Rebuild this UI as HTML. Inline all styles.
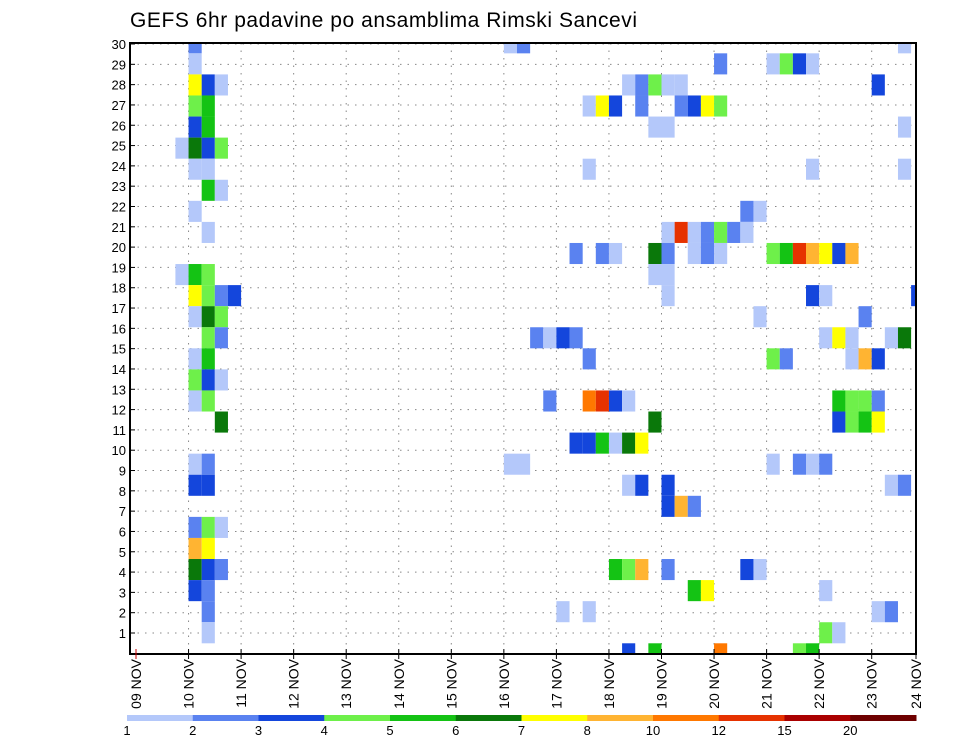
<!DOCTYPE html>
<html><head><meta charset="utf-8"><title>GEFS 6hr padavine</title>
<style>
html,body{margin:0;padding:0;background:#fff;}
svg{display:block;font-family:"Liberation Sans",sans-serif;}
</style></head>
<body>
<svg id="chart" width="960" height="742" viewBox="0 0 960 742" xmlns="http://www.w3.org/2000/svg">
<text x="130" y="27" font-size="21" textLength="507" fill="#000">GEFS 6hr padavine po ansamblima Rimski Sancevi</text>
<g id="grid"></g>
<g id="cells"></g>
<rect x="130" y="43" width="786" height="611" fill="none" stroke="#000" stroke-width="2"/>
<g id="yaxis"></g>
<g id="xaxis"></g>
<g id="legend"></g>
</svg>
<script>
// ---- data ----
const dayLabels = ["09 NOV","10 NOV","11 NOV","12 NOV","13 NOV","14 NOV","15 NOV","16 NOV","17 NOV","18 NOV","19 NOV","20 NOV","21 NOV","22 NOV","23 NOV","24 NOV"];
const memberTicks = [1,2,3,4,5,6,7,8,9,10,11,12,13,14,15,16,17,18,19,20,21,22,23,24,25,26,27,28,29,30];
const levels = [1,2,3,4,5,6,7,8,10,12,15,20];
const levelColors = ["#b4c8fa","#5a82f0","#1446dc","#6ef04a","#14c314","#0a780a","#ffff00","#ffb432","#ff7800","#e63200","#aa0000","#6e0000"];
// each cell: ensemble member, 6-hour step since 09 NOV 00z, precipitation (mm)
const cellMember = [
30,30,30,30,
29,29,29,29,29,29,
28,28,28,28,28,28,28,28,28,
27,27,27,27,27,27,27,27,27,27,
26,26,26,26,26,
25,25,25,25,
24,24,24,24,24,
23,23,
22,22,22,
21,21,21,21,21,21,21,21,
20,20,20,20,20,20,20,20,20,20,20,20,20,20,20,
19,19,19,19,19,
18,18,18,18,18,18,18,18,
17,17,17,17,17,
16,16,16,16,16,16,16,16,16,16,16,
15,15,15,15,15,15,15,15,
14,14,14,
13,13,13,13,13,13,13,13,13,13,13,
12,12,12,12,12,12,
11,11,11,11,11,11,
10,10,10,10,10,10,10,10,
9,9,9,9,9,9,9,
8,8,8,
7,7,7,
6,6,
5,5,5,5,5,5,5,5,5,
4,4,4,4,4,
3,3,3,3,3,
2,2,2,
1,1,1,1,1];
const cellStep = [
4,28,29,58,
4,44,48,49,50,51,
4,5,6,37,38,39,40,41,56,
4,5,34,35,36,38,41,42,43,44,
4,5,39,40,58,
3,4,5,6,
4,5,34,51,58,
5,6,
4,46,47,
5,40,41,42,43,44,45,46,
33,35,36,39,40,42,43,44,48,49,50,51,52,53,54,
3,4,5,39,40,
4,5,6,7,40,51,52,59,
4,5,6,47,55,
5,6,30,31,32,33,52,53,54,57,58,
4,5,34,48,49,54,55,56,
4,5,6,
4,5,31,34,35,36,37,53,54,55,56,
6,39,53,54,55,56,
33,34,35,36,37,38,
4,5,28,29,48,50,51,52,
4,5,37,38,40,57,58,
40,41,42,
4,5,6,
4,5,
4,5,6,36,37,38,40,46,47,
4,5,42,43,52,
5,32,34,56,57,
5,52,53,
37,39,44,50,51];
const cellValue = [
2.5,1.5,2.5,1.5,
1.5,2.5,1.5,4.5,3.5,1.5,
7.5,3.5,1.5,1.5,2.5,4.5,1.5,1.5,3.5,
4.5,5.5,1.5,7.5,3.5,2.5,2.5,3.5,7.5,4.5,
3.5,5.5,1.5,1.5,1.5,
1.5,6.5,3.5,4.5,
1.5,1.5,1.5,1.5,1.5,
5.5,1.5,
1.5,2.5,1.5,
1.5,1.5,13.5,1.5,2.5,4.5,2.5,1.5,
2.5,2.5,1.5,6.5,2.5,1.5,2.5,1.5,4.5,5.5,13.5,9,7.5,3.5,9,
1.5,5.5,4.5,1.5,1.5,
7.5,4.5,2.5,3.5,1.5,3.5,1.5,3.5,
1.5,6.5,4.5,1.5,2.5,
4.5,2.5,2.5,1.5,3.5,2.5,1.5,7.5,1.5,1.5,6.5,
1.5,5.5,2.5,4.5,2.5,1.5,9,3.5,
4.5,3.5,1.5,
1.5,4.5,2.5,11,13.5,3.5,1.5,5.5,4.5,4.5,2.5,
6.5,6.5,3.5,4.5,5.5,7.5,
3.5,3.5,5.5,1.5,6.5,7.5,
1.5,2.5,1.5,1.5,1.5,2.5,1.5,2.5,
3.5,3.5,1.5,3.5,3.5,1.5,2.5,
3.5,9,2.5,
2.5,4.5,1.5,
9,7.5,
6.5,3.5,2.5,5.5,4.5,9,2.5,3.5,1.5,
3.5,2.5,5.5,7.5,1.5,
2.5,1.5,1.5,1.5,2.5,
1.5,4.5,1.5,
3.5,5.5,11,4.5,5.5];

// ---- scales ----
const NS = "http://www.w3.org/2000/svg";
const PL = 130, PR = 916, PT = 43, PB = 654;
const X0 = 136, DAY = 52.55, STEP = DAY / 4;
const CELL_H = 21.07, M30_CENTER = 42.8;
function xStep(k){ return X0 + k * STEP; }
function xDay(d){ return X0 + d * DAY; }
function yCell(m){ return M30_CENTER + (30 - m) * CELL_H; }
function yTick(m){ return 633 - (m - 1) * 20.31; }
function colorFor(v){
  let idx = 0;
  for (let i = 0; i < levels.length; i++) if (v >= levels[i]) idx = i;
  return levelColors[idx];
}
function mk(tag, attrs, parent){
  const e = document.createElementNS(NS, tag);
  for (const a in attrs) e.setAttribute(a, attrs[a]);
  parent.appendChild(e);
  return e;
}

// grid
const grid = document.getElementById('grid');
memberTicks.forEach(m => {
  const l = mk('line', {x1:PL, x2:PR, y1:yTick(m), y2:yTick(m), stroke:'#888', 'stroke-width':1, 'stroke-dasharray':'1.5,6'}, grid);
  
  
});
for (let d = 1; d < dayLabels.length - 1; d++) {
  const l = mk('line', {x1:xDay(d), x2:xDay(d), y1:PT, y2:PB, stroke:'#888', 'stroke-width':1, 'stroke-dasharray':'1.5,6'}, grid);
  
  
}

// cells
const cells = document.getElementById('cells');
const clip = mk('clipPath', {id:'plotclip'}, mk('defs', {}, document.getElementById('chart')));
mk('rect', {x:PL, y:PT, width:PR-PL, height:PB-PT}, clip);
cells.setAttribute('clip-path', 'url(#plotclip)');
for (let i = 0; i < cellMember.length; i++) {
  const r = mk('rect', {x:xStep(cellStep[i]).toFixed(2), y:(yCell(cellMember[i]) - CELL_H/2).toFixed(2), width:STEP.toFixed(2), height:CELL_H.toFixed(2), fill:colorFor(cellValue[i])}, cells);
  
  
}

// y axis
const ya = document.getElementById('yaxis');
memberTicks.forEach(m => {
  const t = mk('text', {x:126, y:yTick(m) + 5, 'font-size':13, 'text-anchor':'end', fill:'#000'}, ya);
  t.textContent = String(m);
  
  
  const tk = mk('line', {x1:PL, x2:PL + 5, y1:yTick(m), y2:yTick(m), stroke:'#000', 'stroke-width':1}, ya);
  
  
});

// x axis
const xa = document.getElementById('xaxis');
dayLabels.forEach((lab, d) => {
  const x = Math.min(xDay(d), PR);
  const tk = mk('line', {x1:x, x2:x, y1:PB - 5, y2:PB + 5, stroke: d === 0 ? '#c00' : '#000', 'stroke-width':1}, xa);
  
  
  const t = mk('text', {transform:'translate(' + (x + 5) + ',659) rotate(-90)', 'font-size':14, 'text-anchor':'end', fill:'#000'}, xa);
  t.textContent = lab;
  
  
});

// legend
const lg = document.getElementById('legend');
const LX0 = 127, LX1 = 916, SEG = (LX1 - LX0) / levels.length;
levels.forEach((lv, i) => {
  const r = mk('rect', {x:(LX0 + i*SEG).toFixed(2), y:715, width:(SEG+0.5).toFixed(2), height:6, fill:levelColors[i]}, lg);
  
  
  const t = mk('text', {x:(LX0 + i*SEG).toFixed(2), y:735, 'font-size':13, 'text-anchor':'middle', fill:'#000'}, lg);
  t.textContent = String(lv);
  
  
});
</script>
</body></html>
